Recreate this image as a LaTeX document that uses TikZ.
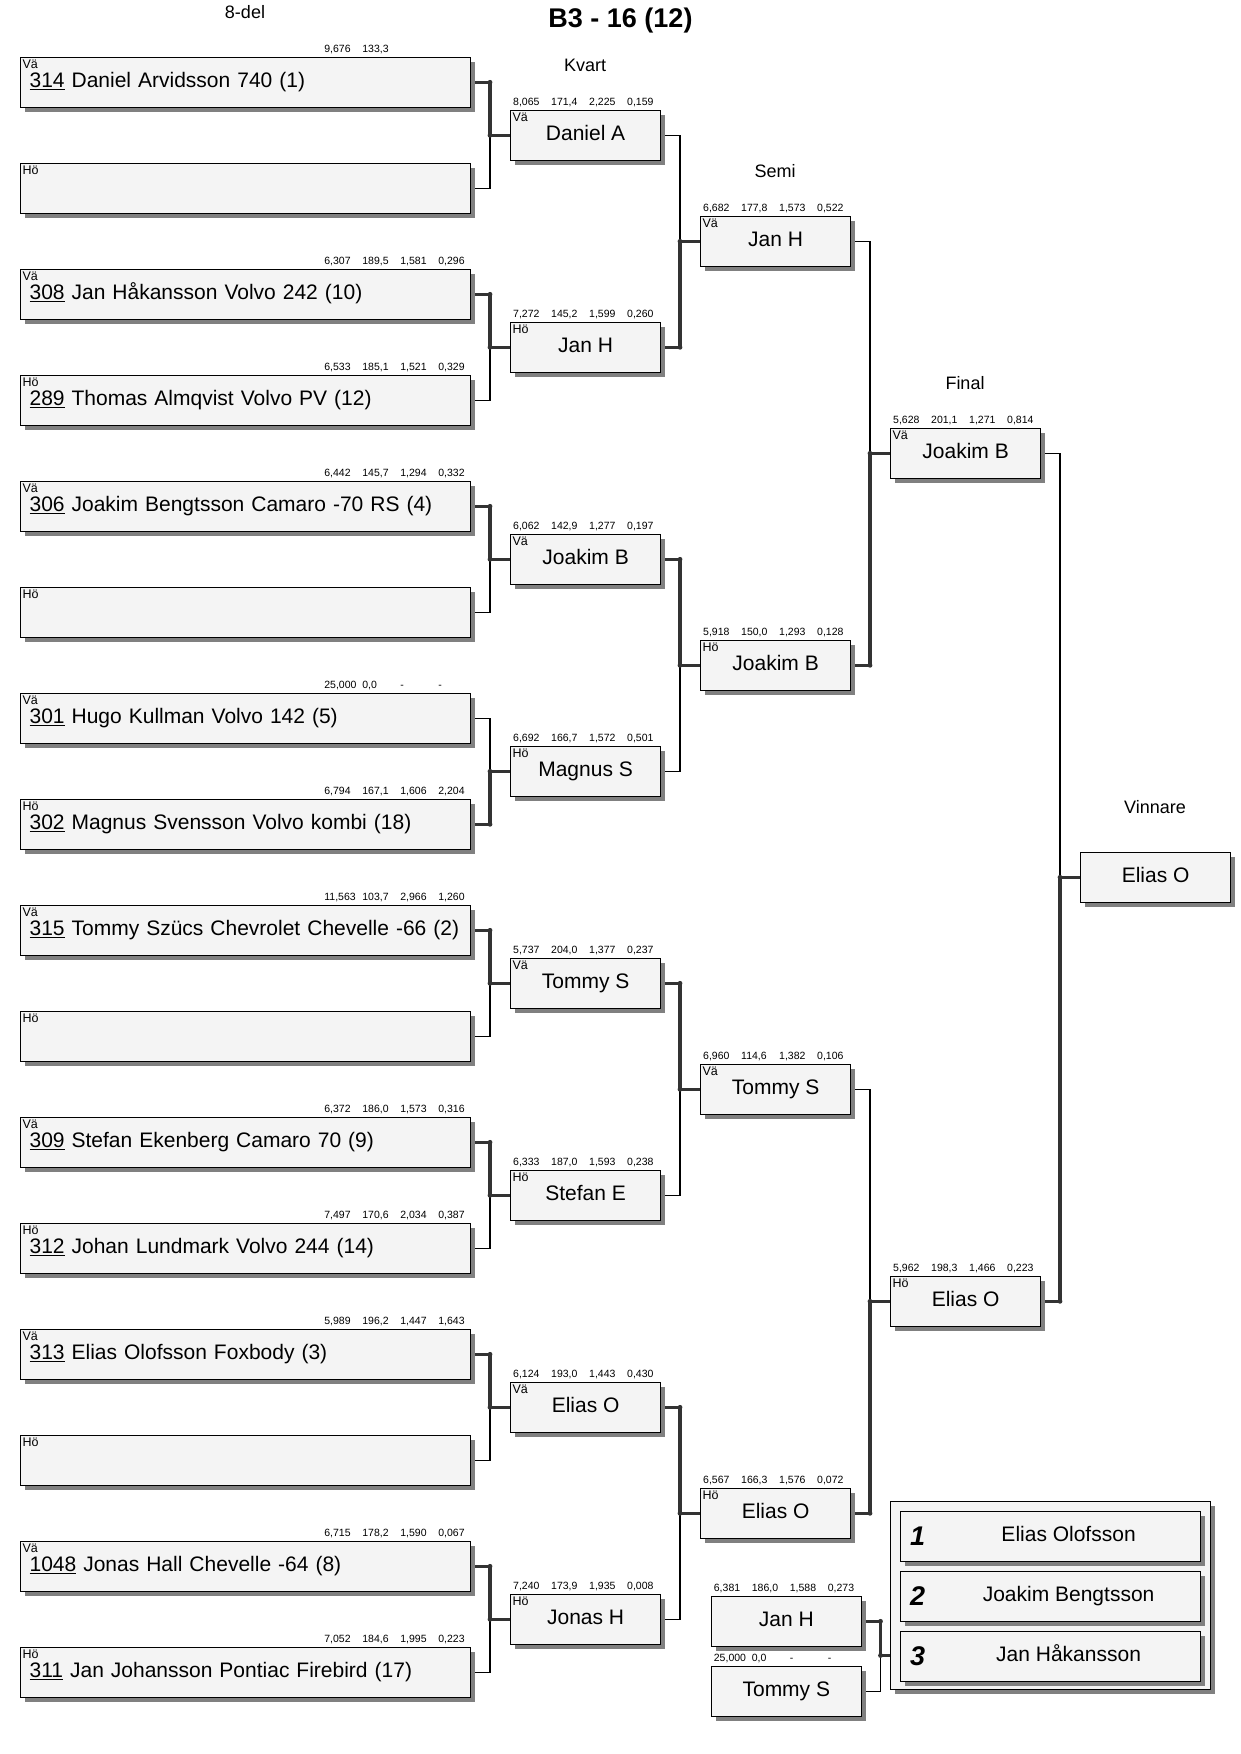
\documentclass[tikz,border=0pt]{standalone}
\usepackage{fontspec}
\setmainfont{Liberation Sans}
\usetikzlibrary{shadows}

\definecolor{boxfill}{HTML}{F4F4F4}
\definecolor{shade}{HTML}{808080}
\definecolor{thickgray}{HTML}{333333}

\newcommand{\heat}[4]{\makebox[38pt][l]{#1}\makebox[38pt][l]{#2}\makebox[38pt][l]{#3}\makebox[38pt][l]{#4}}
\newcommand{\nr}[1]{\underline{#1}}
\newcommand{\winpath}[2]{%
  \draw[winline] ([xshift=4pt]#1.east) -| coordinate[pos=.5] (j) ([xshift=-20pt]#2.west) -- (#2.west);
  \fill[thickgray] (j) circle (2.4pt) ([xshift=-20pt]#2.west) circle (2.4pt);}
\newcommand{\losepath}[2]{%
  \draw[loseline] ([xshift=4pt]#1.east) -| ([xshift=-20pt]#2.west);}

\tikzset{
  slot/.style={draw, line width=1.2pt, fill=boxfill, anchor=north west,
    drop shadow={shadow xshift=4.5pt, shadow yshift=-4.5pt, fill=shade, opacity=1},
    minimum height=50pt, text height=15pt, text depth=4pt,
    font=\fontsize{21}{24}\selectfont},
  entry/.style={slot, inner xsep=9pt, text width=432pt, align=left},
  pair/.style={slot, inner sep=0pt, minimum width=150pt},
  side/.style={anchor=north west, inner sep=0pt, font=\fontsize{12.5}{13}\selectfont},
  times/.style={anchor=base west, inner sep=0pt, font=\fontsize{10.5}{12}\selectfont},
  round/.style={font=\fontsize{18}{20}\selectfont},
  place/.style={font=\fontsize{27}{28}\selectfont\bfseries\itshape},
  winline/.style={line width=3.4pt, draw=thickgray},
  loseline/.style={line width=1.2pt, draw=black},
}

\begin{document}
\begin{tikzpicture}[x=1pt,y=-1pt]
\useasboundingbox (0,0) rectangle (1240,1754);

\node[font=\fontsize{27}{29}\selectfont\bfseries] (title) at (620.5,21) {B3 - 16 (12)};
\node[round] (r8) at (245,12.5)  {8-del};
\node[round] (rk) at (585,65)    {Kvart};
\node[round] (rs) at (775,171)   {Semi};
\node[round] (rf) at (965,383.5) {Final};
\node[round] (rv) at (1155,807)  {Vinnare};

% 8-del
\node[entry] (e1)  at (20,56.7)   {\nr{314} Daniel Arvidsson 740 (1)};
\node[entry] (e2)  at (20,162.7)  {};
\node[entry] (e3)  at (20,268.7)  {\nr{308} Jan Håkansson Volvo 242 (10)};
\node[entry] (e4)  at (20,374.7)  {\nr{289} Thomas Almqvist Volvo PV (12)};
\node[entry] (e5)  at (20,480.7)  {\nr{306} Joakim Bengtsson Camaro -70 RS (4)};
\node[entry] (e6)  at (20,586.7)  {};
\node[entry] (e7)  at (20,692.7)  {\nr{301} Hugo Kullman Volvo 142 (5)};
\node[entry] (e8)  at (20,798.7)  {\nr{302} Magnus Svensson Volvo kombi (18)};
\node[entry] (e9)  at (20,904.7)  {\nr{315} Tommy Szücs Chevrolet Chevelle -66 (2)};
\node[entry] (e10) at (20,1010.7) {};
\node[entry] (e11) at (20,1116.7) {\nr{309} Stefan Ekenberg Camaro 70 (9)};
\node[entry] (e12) at (20,1222.7) {\nr{312} Johan Lundmark Volvo 244 (14)};
\node[entry] (e13) at (20,1328.7) {\nr{313} Elias Olofsson Foxbody (3)};
\node[entry] (e14) at (20,1434.7) {};
\node[entry] (e15) at (20,1540.7) {\nr{1048} Jonas Hall Chevelle -64 (8)};
\node[entry] (e16) at (20,1646.7) {\nr{311} Jan Johansson Pontiac Firebird (17)};

\node[side] (e1v)  at ([xshift=2.3pt,yshift=-3pt]e1.north west)  {Vä};
\node[side] (e2v)  at ([xshift=2.3pt,yshift=-3pt]e2.north west)  {Hö};
\node[side] (e3v)  at ([xshift=2.3pt,yshift=-3pt]e3.north west)  {Vä};
\node[side] (e4v)  at ([xshift=2.3pt,yshift=-3pt]e4.north west)  {Hö};
\node[side] (e5v)  at ([xshift=2.3pt,yshift=-3pt]e5.north west)  {Vä};
\node[side] (e6v)  at ([xshift=2.3pt,yshift=-3pt]e6.north west)  {Hö};
\node[side] (e7v)  at ([xshift=2.3pt,yshift=-3pt]e7.north west)  {Vä};
\node[side] (e8v)  at ([xshift=2.3pt,yshift=-3pt]e8.north west)  {Hö};
\node[side] (e9v)  at ([xshift=2.3pt,yshift=-3pt]e9.north west)  {Vä};
\node[side] (e10v) at ([xshift=2.3pt,yshift=-3pt]e10.north west) {Hö};
\node[side] (e11v) at ([xshift=2.3pt,yshift=-3pt]e11.north west) {Vä};
\node[side] (e12v) at ([xshift=2.3pt,yshift=-3pt]e12.north west) {Hö};
\node[side] (e13v) at ([xshift=2.3pt,yshift=-3pt]e13.north west) {Vä};
\node[side] (e14v) at ([xshift=2.3pt,yshift=-3pt]e14.north west) {Hö};
\node[side] (e15v) at ([xshift=2.3pt,yshift=-3pt]e15.north west) {Vä};
\node[side] (e16v) at ([xshift=2.3pt,yshift=-3pt]e16.north west) {Hö};

\node[times] (e1t)  at ([xshift=-147pt,yshift=4.5pt]e1.north east)  {\heat{9,676}{133,3}{}{}};
\node[times] (e3t)  at ([xshift=-147pt,yshift=4.5pt]e3.north east)  {\heat{6,307}{189,5}{1,581}{0,296}};
\node[times] (e4t)  at ([xshift=-147pt,yshift=4.5pt]e4.north east)  {\heat{6,533}{185,1}{1,521}{0,329}};
\node[times] (e5t)  at ([xshift=-147pt,yshift=4.5pt]e5.north east)  {\heat{6,442}{145,7}{1,294}{0,332}};
\node[times] (e7t)  at ([xshift=-147pt,yshift=4.5pt]e7.north east)  {\heat{25,000}{0,0}{-}{-}};
\node[times] (e8t)  at ([xshift=-147pt,yshift=4.5pt]e8.north east)  {\heat{6,794}{167,1}{1,606}{2,204}};
\node[times] (e9t)  at ([xshift=-147pt,yshift=4.5pt]e9.north east)  {\heat{11,563}{103,7}{2,966}{1,260}};
\node[times] (e11t) at ([xshift=-147pt,yshift=4.5pt]e11.north east) {\heat{6,372}{186,0}{1,573}{0,316}};
\node[times] (e12t) at ([xshift=-147pt,yshift=4.5pt]e12.north east) {\heat{7,497}{170,6}{2,034}{0,387}};
\node[times] (e13t) at ([xshift=-147pt,yshift=4.5pt]e13.north east) {\heat{5,989}{196,2}{1,447}{1,643}};
\node[times] (e15t) at ([xshift=-147pt,yshift=4.5pt]e15.north east) {\heat{6,715}{178,2}{1,590}{0,067}};
\node[times] (e16t) at ([xshift=-147pt,yshift=4.5pt]e16.north east) {\heat{7,052}{184,6}{1,995}{0,223}};

% kvart, semi, final
\node[pair] (k1) at (510,109.7)  {Daniel A};
\node[pair] (k2) at (510,321.7)  {Jan H};
\node[pair] (k3) at (510,533.7)  {Joakim B};
\node[pair] (k4) at (510,745.7)  {Magnus S};
\node[pair] (k5) at (510,957.7)  {Tommy S};
\node[pair] (k6) at (510,1169.7) {Stefan E};
\node[pair] (k7) at (510,1381.7) {Elias O};
\node[pair] (k8) at (510,1593.7) {Jonas H};
\node[pair] (s1) at (700,215.7)  {Jan H};
\node[pair] (s2) at (700,639.7)  {Joakim B};
\node[pair] (s3) at (700,1063.7) {Tommy S};
\node[pair] (s4) at (700,1487.7) {Elias O};
\node[pair] (f1) at (890,427.7)  {Joakim B};
\node[pair] (f2) at (890,1275.7) {Elias O};
\node[pair] (w)  at (1080,851.7) {Elias O};

\node[side] (k1v) at ([xshift=2.3pt,yshift=-3pt]k1.north west) {Vä};
\node[side] (k2v) at ([xshift=2.3pt,yshift=-3pt]k2.north west) {Hö};
\node[side] (k3v) at ([xshift=2.3pt,yshift=-3pt]k3.north west) {Vä};
\node[side] (k4v) at ([xshift=2.3pt,yshift=-3pt]k4.north west) {Hö};
\node[side] (k5v) at ([xshift=2.3pt,yshift=-3pt]k5.north west) {Vä};
\node[side] (k6v) at ([xshift=2.3pt,yshift=-3pt]k6.north west) {Hö};
\node[side] (k7v) at ([xshift=2.3pt,yshift=-3pt]k7.north west) {Vä};
\node[side] (k8v) at ([xshift=2.3pt,yshift=-3pt]k8.north west) {Hö};
\node[side] (s1v) at ([xshift=2.3pt,yshift=-3pt]s1.north west) {Vä};
\node[side] (s2v) at ([xshift=2.3pt,yshift=-3pt]s2.north west) {Hö};
\node[side] (s3v) at ([xshift=2.3pt,yshift=-3pt]s3.north west) {Vä};
\node[side] (s4v) at ([xshift=2.3pt,yshift=-3pt]s4.north west) {Hö};
\node[side] (f1v) at ([xshift=2.3pt,yshift=-3pt]f1.north west) {Vä};
\node[side] (f2v) at ([xshift=2.3pt,yshift=-3pt]f2.north west) {Hö};

\node[times] (k1t) at ([xshift=3pt,yshift=4.5pt]k1.north west) {\heat{8,065}{171,4}{2,225}{0,159}};
\node[times] (k2t) at ([xshift=3pt,yshift=4.5pt]k2.north west) {\heat{7,272}{145,2}{1,599}{0,260}};
\node[times] (k3t) at ([xshift=3pt,yshift=4.5pt]k3.north west) {\heat{6,062}{142,9}{1,277}{0,197}};
\node[times] (k4t) at ([xshift=3pt,yshift=4.5pt]k4.north west) {\heat{6,692}{166,7}{1,572}{0,501}};
\node[times] (k5t) at ([xshift=3pt,yshift=4.5pt]k5.north west) {\heat{5,737}{204,0}{1,377}{0,237}};
\node[times] (k6t) at ([xshift=3pt,yshift=4.5pt]k6.north west) {\heat{6,333}{187,0}{1,593}{0,238}};
\node[times] (k7t) at ([xshift=3pt,yshift=4.5pt]k7.north west) {\heat{6,124}{193,0}{1,443}{0,430}};
\node[times] (k8t) at ([xshift=3pt,yshift=4.5pt]k8.north west) {\heat{7,240}{173,9}{1,935}{0,008}};
\node[times] (s1t) at ([xshift=3pt,yshift=4.5pt]s1.north west) {\heat{6,682}{177,8}{1,573}{0,522}};
\node[times] (s2t) at ([xshift=3pt,yshift=4.5pt]s2.north west) {\heat{5,918}{150,0}{1,293}{0,128}};
\node[times] (s3t) at ([xshift=3pt,yshift=4.5pt]s3.north west) {\heat{6,960}{114,6}{1,382}{0,106}};
\node[times] (s4t) at ([xshift=3pt,yshift=4.5pt]s4.north west) {\heat{6,567}{166,3}{1,576}{0,072}};
\node[times] (f1t) at ([xshift=3pt,yshift=4.5pt]f1.north west) {\heat{5,628}{201,1}{1,271}{0,814}};
\node[times] (f2t) at ([xshift=3pt,yshift=4.5pt]f2.north west) {\heat{5,962}{198,3}{1,466}{0,223}};

% bronze and podium
\node[pair] (b1) at (710.7,1595.7) {Jan H};
\node[pair] (b2) at (710.7,1665.7) {Tommy S};
\node[times] (b1t) at ([xshift=3pt,yshift=4.5pt]b1.north west) {\heat{6,381}{186,0}{1,588}{0,273}};
\node[times] (b2t) at ([xshift=3pt,yshift=4.5pt]b2.north west) {\heat{25,000}{0,0}{-}{-}};

\node[slot, inner sep=0pt, minimum width=320pt, minimum height=188.5pt] (p) at (890,1500.5) {};
\node[pair, minimum width=300pt] (p1) at (900,1510.7) {\hspace*{36pt}Elias Olofsson};
\node[pair, minimum width=300pt] (p2) at (900,1570.7) {\hspace*{36pt}Joakim Bengtsson};
\node[pair, minimum width=300pt] (p3) at (900,1630.7) {\hspace*{36pt}Jan Håkansson};
\node[place] (p1n) at (917.5,1536.5) {1};
\node[place] (p2n) at (917.5,1596.5) {2};
\node[place] (p3n) at (917.5,1656.5) {3};

% connectors
\losepath{e2}{k1}  \losepath{e4}{k2}  \losepath{e6}{k3}  \losepath{e7}{k4}
\losepath{e10}{k5} \losepath{e12}{k6} \losepath{e14}{k7} \losepath{e16}{k8}
\losepath{k1}{s1}  \losepath{k4}{s2}  \losepath{k6}{s3}  \losepath{k8}{s4}
\losepath{s1}{f1}  \losepath{s3}{f2}  \losepath{f1}{w}

\winpath{e1}{k1}  \winpath{e3}{k2}  \winpath{e5}{k3}  \winpath{e8}{k4}
\winpath{e9}{k5}  \winpath{e11}{k6} \winpath{e13}{k7} \winpath{e15}{k8}
\winpath{k2}{s1}  \winpath{k3}{s2}  \winpath{k5}{s3}  \winpath{k7}{s4}
\winpath{s2}{f1}  \winpath{s4}{f2}  \winpath{f2}{w}

\coordinate (bj) at (880.5,1655.5);
\draw[loseline] ([xshift=4pt]b2.east) -| (bj);
\draw[winline] ([xshift=4pt]b1.east) -| coordinate[pos=.5] (bc) (bj) -- (bj -| p.west);
\fill[thickgray] (bc) circle (2.4pt) (bj) circle (2.4pt);

\end{tikzpicture}
\end{document}
